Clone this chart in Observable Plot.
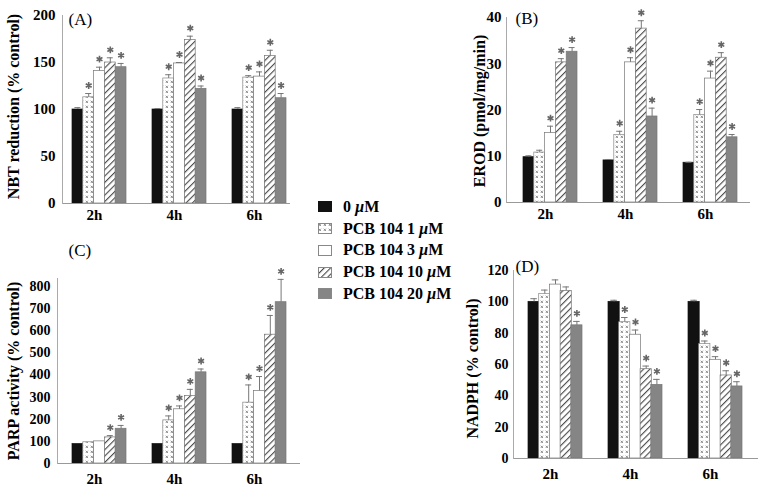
<!DOCTYPE html>
<html><head><meta charset="utf-8">
<script src="https://cdn.jsdelivr.net/npm/d3@7"></script>
<script src="https://cdn.jsdelivr.net/npm/@observablehq/plot@0.6"></script>
<style>
html,body{margin:0;padding:0;background:#fff;}
#chart{position:relative;width:762px;height:490px;overflow:hidden;font-family:"Liberation Serif",serif;}
#chart svg.panel{position:absolute;left:0;top:0;}
#legend{position:absolute;left:318px;top:196px;font-weight:bold;font-size:16px;color:#000;}
#legend .row{height:21.75px;display:flex;align-items:center;white-space:nowrap;}
#legend .row svg{margin-right:11px;flex:none;}
</style></head><body>
<svg width="0" height="0" style="position:absolute">
<defs>
<pattern id="pat1" patternUnits="userSpaceOnUse" width="5" height="5">
<rect width="5" height="5" fill="#fff"/>
<path d="M0.7,0.7L3,3M3,0.7L0.7,3" stroke="#777" stroke-width="0.8" fill="none"/>
</pattern>
<pattern id="pat10" patternUnits="userSpaceOnUse" width="4.5" height="4.5" patternTransform="rotate(45)">
<rect width="4.5" height="4.5" fill="#fff"/>
<line x1="0.6" y1="0" x2="0.6" y2="4.5" stroke="#333" stroke-width="1"/>
</pattern>
</defs></svg>
<div id="chart"><div id="legend"></div></div>
<script>
const times = ["2h", "4h", "6h"];
const concs = ["0 µM", "PCB 104 1 µM", "PCB 104 3 µM", "PCB 104 10 µM", "PCB 104 20 µM"];

// (A) NBT reduction (% control): rows = times, columns = concs
const nbtMean = [[100, 113, 141, 150, 145], [100, 133, 149, 174, 122], [100, 134, 135, 157, 112]];
const nbtErr  = [[2, 4, 4, 5, 4], [1, 4, 1, 4, 3], [2, 2, 5, 6, 5]];
const nbtSig  = [[0, 1, 1, 1, 1], [0, 1, 1, 1, 1], [0, 1, 1, 1, 1]];

// (B) EROD (pmol/mg/min)
const erodMean = [[9.8, 10.8, 15.0, 30.3, 32.6], [9.1, 14.6, 30.3, 37.6, 18.6], [8.6, 18.9, 26.8, 31.3, 14.1]];
const erodErr  = [[0.3, 0.5, 1.5, 0.8, 0.9], [0.2, 0.8, 1.0, 1.7, 1.8], [0.1, 1.2, 1.6, 1.1, 0.6]];
const erodSig  = [[0, 0, 1, 1, 1], [0, 1, 1, 1, 1], [0, 1, 1, 1, 1]];

// (C) PARP activity (% control)
const parpMean = [[88, 96, 100, 118, 157], [88, 195, 245, 305, 412], [88, 275, 328, 582, 729]];
const parpErr  = [[0, 0, 0, 8, 15], [0, 20, 15, 30, 15], [0, 80, 65, 87, 103]];
const parpSig  = [[0, 0, 0, 1, 1], [0, 1, 1, 1, 1], [0, 1, 1, 1, 1]];

// (D) NADPH (% control)
const nadphMean = [[100, 105, 111, 107, 85], [100, 87, 79, 57, 47], [100, 73, 63, 53, 46]];
const nadphErr  = [[2, 2.5, 3, 2.5, 2.5], [1, 3, 3, 2, 3.5], [1, 2, 2, 3, 3]];
const nadphSig  = [[0, 0, 0, 0, 1], [0, 1, 1, 1, 1], [0, 1, 1, 1, 1]];

const yTicksA = [0, 50, 100, 150, 200];
const yTicksB = [0, 10, 20, 30, 40];
const yTicksC = [0, 100, 200, 300, 400, 500, 600, 700, 800];
const yTicksD = [0, 20, 40, 60, 80, 100, 120];

const fills = ["#111", "url(#pat1)", "#fff", "url(#pat10)", "#858585"];
const strokes = ["#111", "#888", "#777", "#777", "#777"];

function rowsOf(mean, err, sig) {
  const out = [];
  times.forEach((t, ti) => concs.forEach((c, i) => out.push({time: t, conc: c, i, value: mean[ti][i], err: err[ti][i], sig: !!sig[ti][i]})));
  return out;
}

function panel(cfg) {
  const {rows, L, R, top, bottom, yDomain, yTicks, g0, step, bw, title, titleX, titleDy, tag, tagX, tagY, xPad, yPad, yFont} = cfg;
  const pi = (step - bw) / step;
  const outer = (R - L) - (2 * step + bw);
  const po = outer / (2 * step);
  const align = (g0 - L) / outer;
  const w = bw / 5;
  const cap = 6;
  const marks = [];
  concs.forEach((c, i) => {
    const sub = rows.filter(d => d.i === i);
    const il = i * w, ir = (4 - i) * w;
    marks.push(Plot.barY(sub, {x: "time", y: "value", fill: fills[i], stroke: strokes[i], strokeWidth: 0.7, insetLeft: il, insetRight: ir}));
    const withErr = sub.filter(d => d.err > 0);
    marks.push(Plot.ruleX(withErr, {x: "time", y1: "value", y2: d => d.value + d.err, dx: (i - 2) * w, stroke: "#777", strokeWidth: 1}));
    marks.push(Plot.tickY(withErr, {x: "time", y: d => d.value + d.err, insetLeft: il + (w - cap) / 2, insetRight: ir + (w - cap) / 2, stroke: "#777", strokeWidth: 1}));
    marks.push(Plot.dot(sub.filter(d => d.sig), {x: "time", y: d => d.value + d.err, symbol: "asterisk", r: 3.2, dx: (i - 2) * w, dy: -8, stroke: "#666", strokeWidth: 1.6}));
  });
  marks.push(Plot.ruleY([0], {stroke: "#999", strokeWidth: 1}));
  marks.push(Plot.frame({anchor: "left", stroke: "#aaa", strokeWidth: 1}));
  marks.push(Plot.axisY({ticks: yTicks, tickSize: 0, tickPadding: yPad, label: null, fontSize: yFont, tickFormat: d => String(d)}));
  marks.push(Plot.axisX({tickSize: 0, tickPadding: xPad, label: null, dx: -5}));
  marks.push(Plot.text([title], {frameAnchor: "left", text: d => d, rotate: -90, textAnchor: "middle", lineAnchor: "middle", dx: titleX - L, dy: titleDy, fontSize: 16, fontWeight: "bold"}));
  marks.push(Plot.text([tag], {frameAnchor: "top-left", text: d => d, textAnchor: "start", lineAnchor: "middle", dx: tagX - L, dy: tagY - top, fontWeight: "normal", fontSize: 17}));
  const svg = Plot.plot({
    width: 762, height: 490,
    marginLeft: L, marginRight: 762 - R, marginTop: top, marginBottom: 490 - bottom,
    x: {domain: times, paddingInner: pi, paddingOuter: po, align},
    y: {domain: yDomain},
    style: {fontFamily: "'Liberation Serif', serif", fontSize: "15px", fontWeight: "bold", background: "transparent", color: "#000", overflow: "visible"},
    marks
  });
  svg.classList.add("panel");
  return svg;
}

const chart = document.getElementById("chart");
chart.appendChild(panel({rows: rowsOf(nbtMean, nbtErr, nbtSig), L: 62, R: 290, top: 15, bottom: 203, yDomain: [0, 200], yTicks: yTicksA,
  g0: 72, step: 80, bw: 54, title: "NBT reduction (% control)", titleX: 13, titleDy: -3, tag: "(A)", tagX: 68, tagY: 19, xPad: 6, yPad: 7, yFont: 15}));
chart.appendChild(panel({rows: rowsOf(erodMean, erodErr, erodSig), L: 506, R: 750, top: 17, bottom: 202, yDomain: [0, 40], yTicks: yTicksB,
  g0: 522, step: 80.5, bw: 54, title: "EROD (pmol/mg/min)", titleX: 479, titleDy: 1, tag: "(B)", tagX: 515, tagY: 18, xPad: 6, yPad: 5, yFont: 15}));
chart.appendChild(panel({rows: rowsOf(parpMean, parpErr, parpSig), L: 57, R: 300, top: 278, bottom: 463, yDomain: [0, 836], yTicks: yTicksC,
  g0: 72, step: 80, bw: 54, title: "PARP activity (% control)", titleX: 13, titleDy: 0, tag: "(C)", tagX: 68, tagY: 250, xPad: 10, yPad: 7, yFont: 14}));
chart.appendChild(panel({rows: rowsOf(nadphMean, nadphErr, nadphSig), L: 513, R: 758, top: 270, bottom: 458, yDomain: [0, 120], yTicks: yTicksD,
  g0: 528, step: 80, bw: 53.5, title: "NADPH (% control)", titleX: 472, titleDy: 4, tag: "(D)", tagX: 515, tagY: 266, xPad: 10, yPad: 5, yFont: 14}));

// legend
const legend = document.getElementById("legend");
chart.appendChild(legend);
concs.forEach((c, i) => {
  const row = document.createElement("div");
  row.className = "row";
  const sw = `<svg width="14" height="11"><rect x="0.5" y="0.5" width="13" height="10" fill="${fills[i]}" stroke="${i === 0 ? "#111" : "#888"}" stroke-width="1"/></svg>`;
  const parts = c.split("µ");
  row.innerHTML = sw + `<span>${parts[0]}<i>µ</i>${parts[1]}</span>`;
  legend.appendChild(row);
});
</script>
</body></html>
